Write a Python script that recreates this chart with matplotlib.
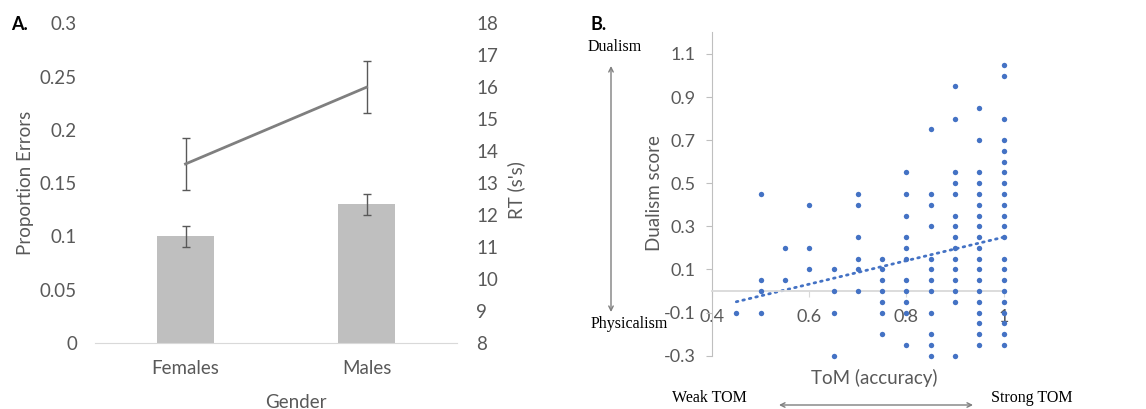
import numpy as np
import matplotlib.pyplot as plt

plt.rcParams['font.family'] = ['Lato', 'DejaVu Sans']

# panel A: errors (bars) and reaction time (line) by gender
genders = ["Females", "Males"]
prop_errors = [0.10, 0.13]
prop_errors_err = [0.01, 0.01]
rt_secs = [13.6, 16.0]
rt_secs_err = [0.82, 0.81]

# panel B: dualism score at each ToM accuracy level
tom_levels = [0.45, 0.5, 0.55, 0.6, 0.65, 0.7, 0.75, 0.8, 0.85, 0.9, 0.95, 1.0]
dualism_by_level = [
    [-0.1],
    [0.45, 0.05, 0.0, -0.1],
    [0.2, 0.05],
    [0.4, 0.2, 0.1],
    [0.1, 0.0, -0.1, -0.3],
    [0.45, 0.4, 0.25, 0.15, 0.1, 0.0],
    [0.15, 0.1, 0.05, 0.0, -0.05, -0.1, -0.2],
    [0.55, 0.45, 0.35, 0.25, 0.2, 0.15, 0.05, 0.0, -0.05, -0.1, -0.25],
    [0.75, 0.45, 0.4, 0.3, 0.15, 0.1, 0.05, 0.0, -0.1, -0.2, -0.25, -0.3],
    [0.95, 0.8, 0.55, 0.5, 0.45, 0.35, 0.3, 0.25, 0.2, 0.15, 0.1, 0.05, 0.0,
     -0.05, -0.3],
    [0.85, 0.7, 0.55, 0.5, 0.45, 0.4, 0.35, 0.3, 0.25, 0.2, 0.15, 0.1, 0.05,
     0.0, -0.05, -0.1, -0.15, -0.2, -0.25],
    [1.05, 1.0, 0.8, 0.7, 0.65, 0.6, 0.55, 0.5, 0.45, 0.4, 0.35, 0.3, 0.25,
     0.15, 0.1, 0.05, 0.0, -0.05, -0.1, -0.15, -0.2, -0.25],
]
# linear trendline (slope, intercept)
trend_slope = 0.545
trend_intercept = -0.295
tom_ticks = [0.4, 0.6, 0.8, 1.0]
tom_ticklabels = ["0.4", "0.6", "0.8", "1"]

W, H = 1146, 409
GREY_TXT = "#595959"
BLUE = "#4472C4"


def fx(px):
    return px / W


def fy(py):
    return 1 - py / H


fig = plt.figure(figsize=(W / 100, H / 100), dpi=100)

# ---- panel A ----
ax = fig.add_axes([fx(95), fy(343), fx(457) - fx(95), fy(23.3) - fy(343)])
xpos = np.arange(len(genders))
ax.bar(xpos, prop_errors, width=0.315, color="#bfbfbf", zorder=2)
ax.errorbar(xpos, prop_errors, yerr=prop_errors_err, fmt="none",
            ecolor=GREY_TXT, elinewidth=1, capsize=3, zorder=3)
ax.set_xlim(-0.5, 1.5)
ax.set_ylim(0, 0.3)
ax.set_yticks(np.arange(0, 0.301, 0.05))
ax.set_yticklabels(["0", "0.05", "0.1", "0.15", "0.2", "0.25", "0.3"])
ax.set_xticks(xpos)
ax.set_xticklabels(genders)
for s in ["top", "right", "left"]:
    ax.spines[s].set_visible(False)
ax.spines["bottom"].set_color("#d9d9d9")
ax.tick_params(axis="y", length=0, pad=13, labelsize=13.5, labelcolor=GREY_TXT)
ax.tick_params(axis="x", length=0, pad=12, labelsize=13.5, labelcolor=GREY_TXT)

ax_rt = ax.twinx()
ax_rt.errorbar(xpos, rt_secs, yerr=rt_secs_err, color="#7f7f7f", lw=2,
               ecolor=GREY_TXT, elinewidth=1, capsize=3, zorder=3)
ax_rt.set_ylim(8, 18)
ax_rt.set_yticks(np.arange(8, 19, 1))
for s in ["top", "right", "left", "bottom"]:
    ax_rt.spines[s].set_visible(False)
ax_rt.tick_params(axis="y", length=0, pad=14, labelsize=13.5, labelcolor=GREY_TXT)

fig.text(fx(11), fy(25), "A.", fontsize=13, fontweight="bold", va="center")
fig.text(fx(25), fy(183), "Proportion Errors", rotation=90, fontsize=13.5,
         color=GREY_TXT, ha="center", va="center")
fig.text(fx(516), fy(190), "RT (s's)", rotation=90, fontsize=13.5,
         color=GREY_TXT, ha="center", va="center")
fig.text(fx(296), fy(402), "Gender", fontsize=13.5, color=GREY_TXT,
         ha="center", va="center")

# ---- panel B ----
tom_x = np.concatenate([[lv] * len(v) for lv, v in zip(tom_levels, dualism_by_level)])
dual_y = np.concatenate(dualism_by_level)

bx = fig.add_axes([fx(712), fy(355.7), fx(1003.7) - fx(712), fy(32.4) - fy(355.7)])
bx.scatter(tom_x, dual_y, s=15, color=BLUE, zorder=3, clip_on=False, linewidths=0)
xfit = np.array([min(tom_levels), max(tom_levels)])
bx.plot(xfit, trend_slope * xfit + trend_intercept, color=BLUE, lw=2,
        linestyle=(0, (0.6, 1.8)), dash_capstyle="round", zorder=2)
bx.set_xlim(0.4, 1.0)
bx.set_ylim(-0.3, 1.2)
bx.set_yticks(np.arange(-0.3, 1.11, 0.2))
bx.set_yticklabels(["%g" % round(v, 1) for v in np.arange(-0.3, 1.11, 0.2)])
bx.set_xticks(tom_ticks)
bx.set_xticklabels(tom_ticklabels)
bx.spines["top"].set_visible(False)
bx.spines["right"].set_visible(False)
bx.spines["left"].set_color("#bfbfbf")
bx.spines["bottom"].set_position(("data", 0))
bx.spines["bottom"].set_color("#d9d9d9")
bx.spines["bottom"].set_linewidth(1.3)
bx.tick_params(axis="y", length=4, color="#bfbfbf", pad=8, labelsize=13,
               labelcolor=GREY_TXT)
bx.tick_params(axis="x", length=4, color="#d9d9d9", pad=9, labelsize=13,
               labelcolor=GREY_TXT)

fig.text(fx(591), fy(25), "B.", fontsize=13, fontweight="bold", va="center")
fig.text(fx(654), fy(193), "Dualism score", rotation=90, fontsize=13.5,
         color=GREY_TXT, ha="center", va="center")
fig.text(fx(874), fy(378), "ToM (accuracy)", fontsize=13.5, color=GREY_TXT,
         ha="center", va="center")

serif = dict(family="Liberation Serif", fontsize=11.5, color="black", va="center")
fig.text(fx(588), fy(47), "Dualism", **serif)
fig.text(fx(591), fy(324), "Physicalism", **serif)
fig.text(fx(672), fy(398), "Weak TOM", **serif)
fig.text(fx(991), fy(398), "Strong TOM", **serif)

arrow = dict(arrowstyle="<->", color="#7f7f7f", lw=1, shrinkA=0, shrinkB=0,
             mutation_scale=8)
fig.add_artist(plt.Annotation("", xy=(fx(611), fy(66)), xytext=(fx(611), fy(312)),
                              xycoords="figure fraction", arrowprops=arrow))
fig.add_artist(plt.Annotation("", xy=(fx(779), fy(405)), xytext=(fx(973), fy(405)),
                              xycoords="figure fraction", arrowprops=arrow))

fig.savefig("out.png", dpi=100)
